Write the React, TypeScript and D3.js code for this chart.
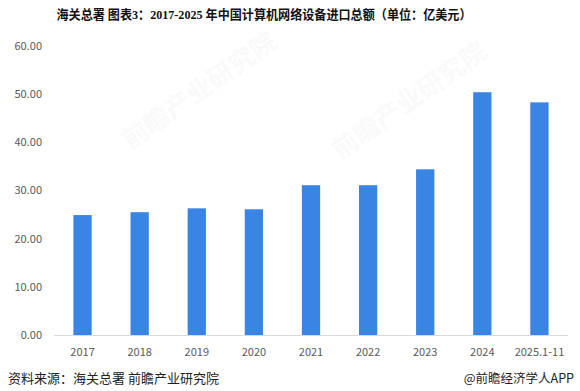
import * as d3 from "d3";

const W = 580;
const H = 391;

const years = ["2017", "2018", "2019", "2020", "2021", "2022", "2023", "2024", "2025.1-11"];
const imports = [24.9, 25.5, 26.3, 26.1, 31.1, 31.1, 34.4, 50.4, 48.3];
const yTicks = [0, 10, 20, 30, 40, 50, 60];

const TITLE = "海关总署  图表3：2017-2025 年中国计算机网络设备进口总额（单位：亿美元）";
const SOURCE = "资料来源：海关总署 前瞻产业研究院";
const BRAND = "@前瞻经济学人APP";

const LEFT = 54;
const RIGHT = 568;
const TOP = 46;
const BOTTOM = 335;

const sans = "'Microsoft YaHei', 'Noto Sans CJK SC', 'Noto Sans', sans-serif";

export default function App() {
  const x = d3.scaleBand<string>().domain(years).range([LEFT, RIGHT]).paddingInner(0.68).paddingOuter(0.34);
  const y = d3.scaleLinear().domain([0, 60]).range([BOTTOM, TOP]);

  return (
    <svg width={W} height={H} style={{ position: "absolute", left: 0, top: 0, background: "#fff" }}>
      <text
        x={264}
        y={19}
        textAnchor="middle"
        fontSize={13}
        fontWeight="bold"
        fontFamily="'Liberation Serif', 'Noto Sans CJK SC', serif"
        fill="#111"
        textLength={415}
        lengthAdjust="spacingAndGlyphs"
      >
        {TITLE}
      </text>

      {/* 浅色水印 */}
      <g opacity={0.035} fill="#7a7a7a" fontFamily={sans} fontWeight="bold">
        <text x={130} y={150} fontSize={26} transform="rotate(-35 130 150)">前瞻产业研究院</text>
        <text x={340} y={160} fontSize={26} transform="rotate(-35 340 160)">前瞻产业研究院</text>
      </g>

      {yTicks.map((t) => (
        <text key={t} x={42} y={y(t)} dy="0.35em" textAnchor="end" fontSize={11} fontFamily={sans} fill="#595959">
          {t.toFixed(2)}
        </text>
      ))}

      {years.map((yr, i) => (
        <rect
          key={yr}
          x={x(yr)}
          y={y(imports[i])}
          width={x.bandwidth()}
          height={BOTTOM - y(imports[i])}
          fill="#3a84e4"
        />
      ))}

      <line x1={LEFT} x2={RIGHT} y1={BOTTOM + 0.5} y2={BOTTOM + 0.5} stroke="#d9d9d9" strokeWidth={1} />

      {years.map((yr) => (
        <text
          key={yr}
          x={(x(yr) ?? 0) + x.bandwidth() / 2}
          y={352}
          dy="0.35em"
          textAnchor="middle"
          fontSize={11}
          fontFamily={sans}
          fill="#595959"
        >
          {yr}
        </text>
      ))}

      <text x={8} y={383} fontSize={13} fontFamily={sans} fill="#222">
        {SOURCE}
      </text>
      <text x={574} y={383} textAnchor="end" fontSize={12.5} fontFamily={sans} fill="#222">
        {BRAND}
      </text>
    </svg>
  );
}
